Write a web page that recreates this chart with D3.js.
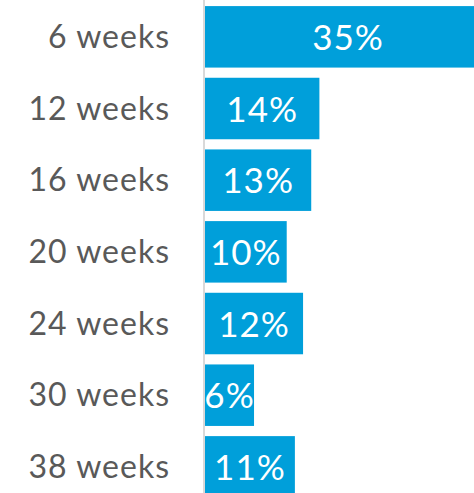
<!DOCTYPE html>
<html>
<head>
<meta charset="utf-8">
<script src="https://cdn.jsdelivr.net/npm/d3@7"></script>
<style>
  html, body { margin: 0; padding: 0; background: #ffffff; }
  svg { display: block; }
</style>
</head>
<body>
<script>
// Share of responses by follow-up time point
const categories = ["6 weeks", "12 weeks", "16 weeks", "20 weeks", "24 weeks", "30 weeks", "38 weeks"];
const values = [35, 14, 13, 10, 12, 6, 11];
const valueLabels = ["35%", "14%", "13%", "10%", "12%", "6%", "11%"];

const width = 474, height = 493;
const axisX = 205;

const svg = d3.select("body").append("svg")
  .attr("width", width)
  .attr("height", height);

const x = d3.scaleLinear().domain([0, 35]).range([axisX, axisX + 286]);
const y = d3.scaleBand().domain(categories).range([1, 502.7])
  .paddingInner(0.142).paddingOuter(0.071);

// bars
svg.append("g").selectAll("rect")
  .data(values)
  .join("rect")
  .attr("x", x(0))
  .attr("y", (d, i) => y(categories[i]))
  .attr("width", d => x(d) - x(0))
  .attr("height", y.bandwidth())
  .attr("fill", "#009FDA");

// value labels centred in each bar
svg.append("g").selectAll("text")
  .data(values)
  .join("text")
  .attr("x", d => (x(0) + x(d)) / 2)
  .attr("y", (d, i) => y(categories[i]) + y.bandwidth() / 2 + 13)
  .attr("text-anchor", "middle")
  .attr("fill", "#ffffff")
  .style("font-family", "Lato, 'Open Sans', sans-serif")
  .style("font-size", "35px")
  .style("letter-spacing", "1px")
  .text((d, i) => valueLabels[i]);

// vertical category axis line
svg.append("line")
  .attr("x1", axisX - 1).attr("x2", axisX - 1)
  .attr("y1", 0).attr("y2", height)
  .attr("stroke", "#D9D9D9")
  .attr("stroke-width", 2);

// category labels
svg.append("g").selectAll("text")
  .data(categories)
  .join("text")
  .attr("x", 170)
  .attr("y", d => y(d) + y.bandwidth() / 2 + 11)
  .attr("text-anchor", "end")
  .attr("fill", "#595959")
  .style("font-family", "Lato, 'Open Sans', sans-serif")
  .style("font-size", "32px")
  .style("letter-spacing", "1px")
  .text(d => d);
</script>
</body>
</html>
